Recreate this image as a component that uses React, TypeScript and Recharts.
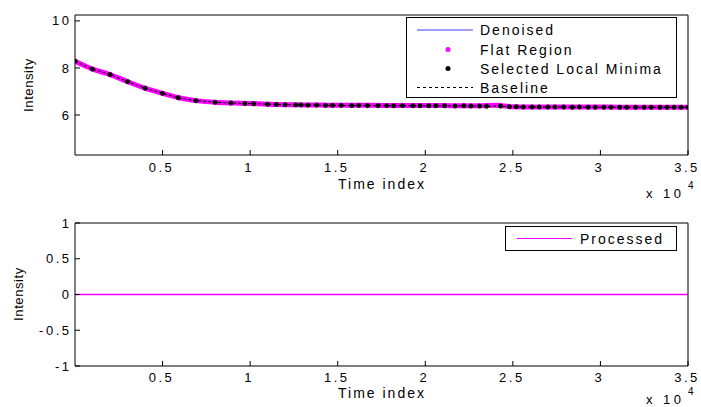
import React from "react";
import { ComposedChart, Line, XAxis, YAxis } from "recharts";

// time index (samples) and signal values
const denoisedTime = [
  0, 1000, 2000, 3000, 4000, 5000, 6000, 7000, 8000, 9000, 10000, 11000,
  12000, 13000, 14000, 15000, 16000, 17000, 18000, 19000, 20000, 21000, 22000,
  23000, 24000, 25000, 26000, 27000, 28000, 29000, 30000, 31000, 32000, 33000,
  34000, 35000,
];
const denoisedValue = [
  8.29, 7.95, 7.72, 7.42, 7.14, 6.92, 6.72, 6.6, 6.54, 6.51, 6.49, 6.46, 6.44,
  6.43, 6.42, 6.41, 6.41, 6.4, 6.4, 6.4, 6.39, 6.39, 6.39, 6.38, 6.4, 6.35,
  6.34, 6.34, 6.34, 6.34, 6.33, 6.33, 6.33, 6.33, 6.33, 6.33,
];
const flatValue = [
  8.28, 7.95, 7.72, 7.42, 7.14, 6.92, 6.72, 6.6, 6.54, 6.51, 6.49, 6.46, 6.44,
  6.43, 6.42, 6.41, 6.41, 6.41, 6.4, 6.4, 6.4, 6.4, 6.39, 6.39, 6.41, 6.35,
  6.34, 6.34, 6.34, 6.34, 6.34, 6.33, 6.33, 6.33, 6.33, 6.33,
];

const minimaTime = [
  0, 1000, 2000, 3000, 4000, 5000, 5900, 6900, 8000, 8900, 9700, 10200, 11000,
  11500, 12000, 12600, 12900, 13300, 13800, 14300, 14700, 15200, 15800, 16200,
  16700, 17300, 17800, 18200, 18700, 19300, 19700, 20200, 20600, 21100, 21700,
  22200, 22600, 23100, 23500, 24300, 24800, 25200, 25600, 26100, 26500, 27000,
  27400, 27900, 28400, 28800, 29300, 29700, 30200, 30600, 31100, 31500, 32000,
  32500, 32900, 33400, 33800, 34200, 34600, 35000,
];
const minimaValue = [
  8.29, 7.95, 7.72, 7.42, 7.14, 6.92, 6.73, 6.61, 6.54, 6.51, 6.49, 6.48, 6.46,
  6.45, 6.44, 6.43, 6.43, 6.42, 6.42, 6.41, 6.41, 6.41, 6.4, 6.41, 6.4, 6.4,
  6.4, 6.39, 6.4, 6.39, 6.39, 6.39, 6.39, 6.39, 6.38, 6.39, 6.38, 6.38, 6.37,
  6.38, 6.35, 6.35, 6.34, 6.34, 6.34, 6.34, 6.34, 6.34, 6.33, 6.34, 6.33, 6.33,
  6.33, 6.33, 6.33, 6.33, 6.33, 6.33, 6.33, 6.33, 6.33, 6.33, 6.33, 6.33,
];

const processedTime = [0, 5000, 10000, 15000, 20000, 25000, 30000, 35000];
const processedValue = [0, 0, 0, 0, 0, 0, 0, 0];

const xTicks = [5000, 10000, 15000, 20000, 25000, 30000, 35000];
const topYTicks = [6, 8, 10];
const bottomYTicks = [-1, -0.5, 0, 0.5, 1];

const FONT = '"Liberation Sans", Arial, Helvetica, sans-serif';

const toPoints = (t: number[], v: number[]) =>
  t.map((x, i) => ({ t: x, v: v[i] }));

const denoisedData = toPoints(denoisedTime, denoisedValue);
const flatData = toPoints(denoisedTime, flatValue);
const minimaData = toPoints(minimaTime, minimaValue);
const processedData = toPoints(processedTime, processedValue);

const tickStyle = {
  fontSize: 13,
  fill: "#000",
  fontFamily: FONT,
  style: { letterSpacing: "2.5px" },
};

const fmtX = (v: number) => String(v / 10000);

interface PanelProps {
  top: number;
  height: number;
  marginTop: number;
  xAxisHeight: number;
  xTickMargin: number;
  yDomain: [number, number];
  yTicks: number[];
  children: React.ReactNode;
}

const Panel = ({
  top,
  height,
  marginTop,
  xAxisHeight,
  xTickMargin,
  yDomain,
  yTicks,
  children,
}: PanelProps) => (
  <div style={{ position: "absolute", left: 0, top }}>
    <ComposedChart
      width={701}
      height={height}
      margin={{ top: marginTop, right: 12, left: 0, bottom: 0 }}
    >
      <XAxis
        xAxisId="b"
        dataKey="t"
        type="number"
        domain={[0, 35000]}
        ticks={xTicks}
        tickFormatter={fmtX}
        interval={0}
        tickSize={-5}
        tickMargin={xTickMargin}
        height={xAxisHeight}
        stroke="#000"
        tick={{ ...tickStyle, dx: -1 }}
        allowDataOverflow
      />
      <XAxis
        xAxisId="t"
        orientation="top"
        dataKey="t"
        type="number"
        domain={[0, 35000]}
        ticks={xTicks}
        interval={0}
        tick={false}
        tickSize={-5}
        height={1}
        stroke="#000"
        allowDataOverflow
      />
      <YAxis
        yAxisId="l"
        type="number"
        domain={yDomain}
        ticks={yTicks}
        interval={0}
        tickSize={-5}
        tickMargin={8.5}
        width={75}
        stroke="#000"
        tick={tickStyle}
        allowDataOverflow
      />
      <YAxis
        yAxisId="r"
        orientation="right"
        type="number"
        domain={yDomain}
        ticks={yTicks}
        interval={0}
        tick={false}
        tickSize={-5}
        width={1}
        stroke="#000"
        allowDataOverflow
      />
      {children}
    </ComposedChart>
  </div>
);

const LegendText = ({ x, y, children }: { x: number; y: number; children: React.ReactNode }) => (
  <text
    x={x}
    y={y}
    fontSize={14}
    fontFamily={FONT}
    fill="#000"
    dominantBaseline="central"
    style={{ letterSpacing: "2px" }}
  >
    {children}
  </text>
);

const App = () => {
  return (
    <div
      style={{
        position: "absolute",
        left: 0,
        top: 0,
        width: 701,
        height: 407,
        background: "#fff",
        overflow: "hidden",
      }}
    >
      <Panel
        top={0}
        height={200}
        marginTop={14}
        xAxisHeight={45}
        xTickMargin={13}
        yDomain={[4.3, 10.25]}
        yTicks={topYTicks}
      >
        <Line
          xAxisId="b"
          yAxisId="l"
          data={denoisedData}
          dataKey="v"
          type="monotone"
          stroke="#0000ff"
          strokeWidth={1}
          dot={false}
          activeDot={false}
          isAnimationActive={false}
          name="Denoised"
        />
        <Line
          xAxisId="b"
          yAxisId="l"
          data={flatData}
          dataKey="v"
          type="monotone"
          stroke="#ff00ff"
          strokeWidth={5}
          strokeLinecap="round"
          dot={false}
          activeDot={false}
          isAnimationActive={false}
          name="Flat Region"
        />
        <Line
          xAxisId="b"
          yAxisId="l"
          data={minimaData}
          dataKey="v"
          type="linear"
          stroke="#000"
          strokeWidth={1}
          strokeDasharray="3 2"
          dot={false}
          activeDot={false}
          isAnimationActive={false}
          name="Baseline"
        />
        <Line
          xAxisId="b"
          yAxisId="l"
          data={minimaData}
          dataKey="v"
          stroke="none"
          dot={{ r: 2.2, fill: "#000", stroke: "#000", strokeWidth: 0.5 }}
          activeDot={false}
          isAnimationActive={false}
          name="Selected Local Minima"
        />
      </Panel>

      <Panel
        top={200}
        height={207}
        marginTop={22}
        xAxisHeight={41}
        xTickMargin={12}
        yDomain={[-1, 1]}
        yTicks={bottomYTicks}
      >
        <Line
          xAxisId="b"
          yAxisId="l"
          data={processedData}
          dataKey="v"
          type="linear"
          stroke="#ff00ff"
          strokeWidth={1.5}
          dot={false}
          activeDot={false}
          isAnimationActive={false}
          name="Processed"
        />
      </Panel>

      {/* axis titles, exponent labels and legends */}
      <svg
        width={701}
        height={407}
        style={{ position: "absolute", left: 0, top: 0, pointerEvents: "none" }}
      >
        <text
          x={0}
          y={0}
          transform="translate(28,85) rotate(-90)"
          textAnchor="middle"
          dominantBaseline="central"
          fontSize={13}
          fontFamily={FONT}
          style={{ letterSpacing: "0.6px" }}
        >
          Intensity
        </text>
        <text
          x={0}
          y={0}
          transform="translate(18,294) rotate(-90)"
          textAnchor="middle"
          dominantBaseline="central"
          fontSize={13}
          fontFamily={FONT}
          style={{ letterSpacing: "0.6px" }}
        >
          Intensity
        </text>

        {[184, 393].map((y) => (
          <text
            key={y}
            x={382}
            y={y}
            textAnchor="middle"
            dominantBaseline="central"
            fontSize={14}
            fontFamily={FONT}
            style={{ letterSpacing: "2px" }}
          >
            Time index
          </text>
        ))}

        {[193, 399].map((y) => (
          <g key={y} fontFamily={FONT}>
            <text x={646} y={y} fontSize={13} dominantBaseline="central" style={{ letterSpacing: "3.5px" }}>
              x 10
            </text>
            <text x={688} y={y - 8} fontSize={10} dominantBaseline="central">
              4
            </text>
          </g>
        ))}

        <rect x={406.5} y={17.5} width={270} height={80} fill="#fff" stroke="#000" />
        <line x1={417} x2={473} y1={30} y2={30} stroke="#3a3aff" strokeWidth={1} />
        <LegendText x={480} y={30}>Denoised</LegendText>
        <circle cx={448} cy={49.5} r={2.5} fill="#ff00ff" />
        <LegendText x={480} y={49.5}>Flat Region</LegendText>
        <circle cx={448} cy={68.5} r={2.5} fill="#000" />
        <LegendText x={480} y={68.5}>Selected Local Minima</LegendText>
        <line x1={417} x2={473} y1={87.5} y2={87.5} stroke="#000" strokeDasharray="3 3" />
        <LegendText x={480} y={87.5}>Baseline</LegendText>

        <rect x={505.5} y={226.5} width={171} height={24} fill="#fff" stroke="#000" />
        <line x1={517} x2={572} y1={238.5} y2={238.5} stroke="#ff00ff" strokeWidth={1} />
        <LegendText x={580} y={238.5}>Processed</LegendText>
      </svg>
    </div>
  );
};

export default App;
